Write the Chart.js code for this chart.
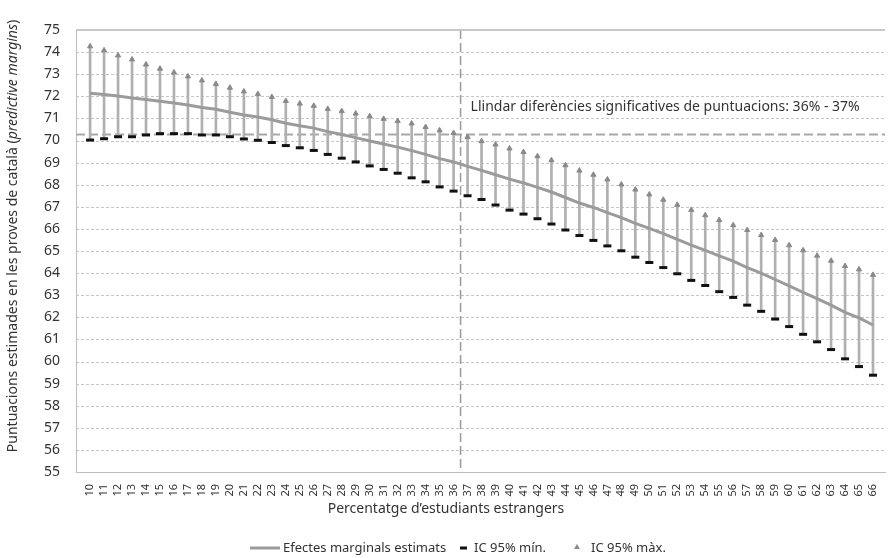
<!DOCTYPE html>
<html>
<head>
<meta charset="utf-8">
<script src="https://cdn.jsdelivr.net/npm/chart.js@4.4.1/dist/chart.umd.min.js"></script>
<style>
  body { margin: 0; background: #fff; }
  #wrap { width: 892px; height: 558px; }
</style>
</head>
<body>
<div id="wrap"><canvas id="chart"></canvas></div>
<script>
// percentatge d'estudiants estrangers
let categories = [10, 11, 12, 13, 14, 15, 16, 17, 18, 19, 20, 21, 22, 23, 24, 25, 26, 27, 28, 29,
    30, 31, 32, 33, 34, 35, 36, 37, 38, 39, 40, 41, 42, 43, 44, 45, 46, 47, 48, 49,
    50, 51, 52, 53, 54, 55, 56, 57, 58, 59, 60, 61, 62, 63, 64, 65, 66];

let marginals = [72.14, 72.08, 72.01, 71.92, 71.85, 71.78, 71.70, 71.61, 71.49, 71.41,
    71.28, 71.15, 71.06, 70.94, 70.78, 70.67, 70.56, 70.40, 70.27, 70.13,
    69.98, 69.84, 69.70, 69.54, 69.37, 69.18, 69.03, 68.83, 68.65, 68.45,
    68.25, 68.08, 67.88, 67.67, 67.42, 67.17, 66.97, 66.74, 66.51, 66.25,
    66.02, 65.79, 65.53, 65.27, 65.03, 64.78, 64.54, 64.25, 64.00, 63.71,
    63.42, 63.13, 62.84, 62.55, 62.22, 61.97, 61.65];

let ciMin = [70.02, 70.08, 70.17, 70.17, 70.25, 70.31, 70.31, 70.31, 70.25, 70.25,
    70.17, 70.07, 70.01, 69.91, 69.77, 69.67, 69.55, 69.37, 69.20, 69.03,
    68.85, 68.69, 68.52, 68.31, 68.13, 67.90, 67.71, 67.50, 67.33, 67.08,
    66.85, 66.67, 66.46, 66.22, 65.95, 65.70, 65.48, 65.23, 65.01, 64.72,
    64.48, 64.25, 63.97, 63.67, 63.44, 63.16, 62.90, 62.55, 62.27, 61.92,
    61.58, 61.23, 60.89, 60.54, 60.12, 59.77, 59.38];

let ciMax = [74.26, 74.08, 73.85, 73.67, 73.44, 73.25, 73.08, 72.90, 72.72, 72.56,
    72.39, 72.22, 72.10, 71.97, 71.79, 71.67, 71.57, 71.43, 71.33, 71.22,
    71.10, 70.98, 70.88, 70.77, 70.61, 70.46, 70.34, 70.16, 69.97, 69.82,
    69.64, 69.48, 69.29, 69.11, 68.88, 68.64, 68.45, 68.24, 68.01, 67.78,
    67.56, 67.32, 67.09, 66.86, 66.62, 66.40, 66.17, 65.95, 65.72, 65.50,
    65.26, 65.03, 64.79, 64.56, 64.32, 64.17, 63.92];

// llindar
let thresholdScore = 70.27;
let thresholdPct = 36.5;
let thresholdText = 'Llindar diferències significatives de puntuacions: 36% - 37%';

let yTicks = [55, 75];

const FONT = '"Noto Sans", sans-serif';
const TEXT = '#333333';

let pts = arr => arr.map((v, i) => ({ x: categories[i], y: v }));
let ranges = categories.map((c, i) => ({ x: c, y: [ciMin[i], ciMax[i]] }));

let decorations = {
    id: 'decorations',
    beforeDatasetsDraw(chart) {
        let ctx = chart.ctx, a = chart.chartArea;
        let ys = chart.scales.y;
        // dashed horizontal grid
        ctx.save();
        ctx.setLineDash([3, 2]);
        ctx.strokeStyle = '#c6c6c6';
        ctx.lineWidth = 1;
        for (let v = yTicks[0] + 1; v < yTicks[1]; v++) {
            let gy = Math.round(ys.getPixelForValue(v)) + 0.5;
            ctx.beginPath();
            ctx.moveTo(a.left, gy);
            ctx.lineTo(a.right, gy);
            ctx.stroke();
        }
        ctx.restore();

        let y = ys.getPixelForValue(thresholdScore);
        let x = chart.scales.x.getPixelForValue(thresholdPct);
        ctx.save();
        ctx.setLineDash([9, 4]);
        ctx.strokeStyle = '#a8a8a8';
        ctx.lineWidth = 2;
        ctx.beginPath();
        ctx.moveTo(a.left, y);
        ctx.lineTo(a.right, y);
        ctx.stroke();
        ctx.lineWidth = 1.5;
        ctx.strokeStyle = '#9a9a9a';
        ctx.beginPath();
        ctx.moveTo(x, a.top);
        ctx.lineTo(x, a.bottom);
        ctx.stroke();
        ctx.restore();
        // top border
        ctx.save();
        ctx.strokeStyle = '#c8c8c8';
        ctx.lineWidth = 2;
        ctx.beginPath();
        ctx.moveTo(a.left, a.top);
        ctx.lineTo(a.right, a.top);
        ctx.stroke();
        ctx.restore();
    },
    afterDraw(chart) {
        let ctx = chart.ctx;
        ctx.save();
        ctx.fillStyle = TEXT;
        ctx.textBaseline = 'middle';

        // threshold label
        ctx.font = '14px ' + FONT;
        ctx.textAlign = 'left';
        ctx.fillText(thresholdText, chart.scales.x.getPixelForValue(thresholdPct) + 10, 107);

        // y title, part in italics
        let p1 = 'Puntuacions estimades en les proves de català (';
        let p2 = 'predictive margins';
        let p3 = ')';
        ctx.save();
        ctx.translate(13, 236);
        ctx.rotate(-Math.PI / 2);
        ctx.font = '14px ' + FONT;
        let w1 = ctx.measureText(p1).width, w3 = ctx.measureText(p3).width;
        ctx.font = 'italic 14px ' + FONT;
        let w2 = ctx.measureText(p2).width;
        let x0 = -(w1 + w2 + w3) / 2;
        ctx.font = '14px ' + FONT;
        ctx.fillText(p1, x0, 0);
        ctx.font = 'italic 14px ' + FONT;
        ctx.fillText(p2, x0 + w1, 0);
        ctx.font = '14px ' + FONT;
        ctx.fillText(p3, x0 + w1 + w2, 0);
        ctx.restore();

        // x title
        ctx.font = '14px ' + FONT;
        ctx.textAlign = 'center';
        ctx.fillText('Percentatge d\u2019estudiants estrangers', 446, 509);

        // legend
        let ly = 548;
        ctx.textAlign = 'left';
        ctx.font = '13px ' + FONT;
        ctx.strokeStyle = '#9b9b9b';
        ctx.lineWidth = 3;
        ctx.beginPath();
        ctx.moveTo(250, ly);
        ctx.lineTo(280, ly);
        ctx.stroke();
        ctx.fillText('Efectes marginals estimats', 283, ly);
        ctx.strokeStyle = '#111';
        ctx.beginPath();
        ctx.moveTo(460, ly);
        ctx.lineTo(467, ly);
        ctx.stroke();
        ctx.fillText('IC 95% mín.', 474, ly);
        ctx.fillStyle = '#8a8a8a';
        ctx.beginPath();
        ctx.moveTo(577, ly - 4);
        ctx.lineTo(580, ly + 1);
        ctx.lineTo(574, ly + 1);
        ctx.closePath();
        ctx.fill();
        ctx.fillStyle = TEXT;
        ctx.fillText('IC 95% màx.', 591, ly);
        ctx.restore();
    }
};

new Chart(document.getElementById('chart'), {
    type: 'line',
    data: {
        datasets: [{
            type: 'bar',
            label: 'IC',
            data: ranges,
            backgroundColor: '#b0b0b0',
            barThickness: 2,
            order: 4,
        }, {
            label: 'Efectes marginals estimats',
            data: pts(marginals),
            borderColor: '#9b9b9b',
            borderWidth: 3,
            pointRadius: 0,
            tension: 0,
            fill: false,
            order: 3,
        }, {
            label: 'IC 95% mín.',
            data: pts(ciMin),
            showLine: false,
            pointStyle: 'line',
            pointRadius: 4,
            pointBorderWidth: 3,
            pointBorderColor: '#111111',
            pointBackgroundColor: '#111111',
            order: 2,
        }, {
            label: 'IC 95% màx.',
            data: pts(ciMax),
            showLine: false,
            pointStyle: 'triangle',
            pointRadius: 3,
            pointBorderWidth: 1,
            pointBorderColor: '#8a8a8a',
            pointBackgroundColor: '#8a8a8a',
            order: 1,
        }]
    },
    options: {
        responsive: true,
        maintainAspectRatio: false,
        animation: false,
        layout: { padding: { top: 30, bottom: 52, left: 0, right: 0 } },
        plugins: {
            legend: { display: false },
            tooltip: { enabled: false },
        },
        scales: {
            x: {
                type: 'linear',
                min: categories[0] - 0.5,
                max: categories[categories.length - 1] + 0.35,
                grid: { display: false },
                border: { display: true, color: '#bdbdbd', width: 1 },
                ticks: {
                    stepSize: 1,
                    includeBounds: false,
                    autoSkip: false,
                    minRotation: 90,
                    maxRotation: 90,
                    padding: 4,
                    color: TEXT,
                    font: { family: FONT, size: 11 },
                    callback: v => String(v),
                },
                afterFit: s => { s.height = 34; s.paddingLeft = 0; s.paddingRight = 0; },
            },
            y: {
                min: yTicks[0],
                max: yTicks[1],
                grid: { display: false },
                border: { display: true, color: '#bdbdbd', width: 1 },
                ticks: {
                    stepSize: 1,
                    padding: 8,
                    color: TEXT,
                    font: { family: FONT, size: 14 },
                },
                afterFit: s => { s.width = 76; s.paddingTop = 0; s.paddingBottom = 0; },
            }
        }
    },
    plugins: [decorations]
});
</script>
</body>
</html>
